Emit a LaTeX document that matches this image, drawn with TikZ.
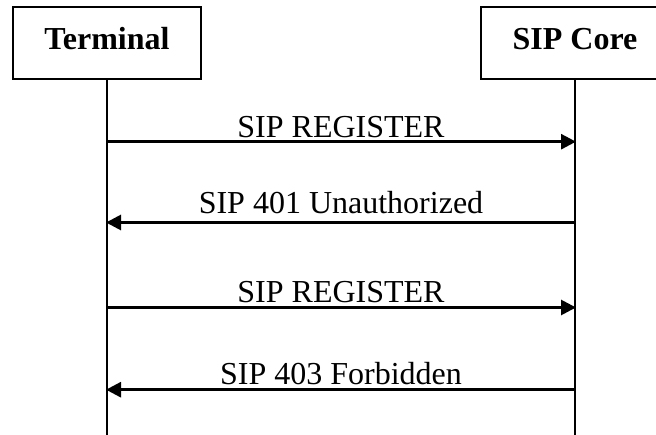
\documentclass[tikz,border=0pt]{standalone}
\usepackage{fontspec}
\setmainfont{Liberation Serif}
\usetikzlibrary{arrows.meta}
\begin{document}
\begin{tikzpicture}[x=1pt,y=-1pt,
  entity/.style={draw, line width=1.8pt, minimum width=188pt, minimum height=72pt,
    inner sep=0pt, text height=22pt, text depth=8.6pt,
    font=\fontsize{32}{38}\selectfont\bfseries},
  life/.style={line width=1.8pt},
  msg/.style={line width=2.8pt, -{Triangle[length=15pt,width=15pt]}, shorten >=-1pt},
  msglabel/.style={anchor=base, inner sep=0pt, font=\fontsize{32}{38}\selectfont}]
\clip (0,0) rectangle (656,435);
\fill[white] (0,0) rectangle (656,435);
\node[entity] (term) at (107,43.3) {Terminal};
\node[entity] (core) at (575,43.3) {SIP Core};
\coordinate (tend) at (107,436);
\coordinate (cend) at (575,436);
\draw[life] (term.south) -- (tend);
\draw[life] (core.south) -- (cend);
% message anchor points on lifelines
\coordinate (t1) at (107,141.7); \coordinate (c1) at (575,141.7);
\coordinate (t2) at (107,222.5); \coordinate (c2) at (575,222.5);
\coordinate (t3) at (107,307.5); \coordinate (c3) at (575,307.5);
\coordinate (t4) at (107,389.7); \coordinate (c4) at (575,389.7);
\draw[msg] (t1) -- (c1);
\draw[msg] (c2) -- (t2);
\draw[msg] (t3) -- (c3);
\draw[msg] (c4) -- (t4);
\node[msglabel] (l1) at (341,138) {SIP REGISTER};
\node[msglabel] (l2) at (341,213.3) {SIP 401 Unauthorized};
\node[msglabel] (l3) at (341,302.7) {SIP REGISTER};
\node[msglabel] (l4) at (341,384.3) {SIP 403 Forbidden};
\end{tikzpicture}
\end{document}
